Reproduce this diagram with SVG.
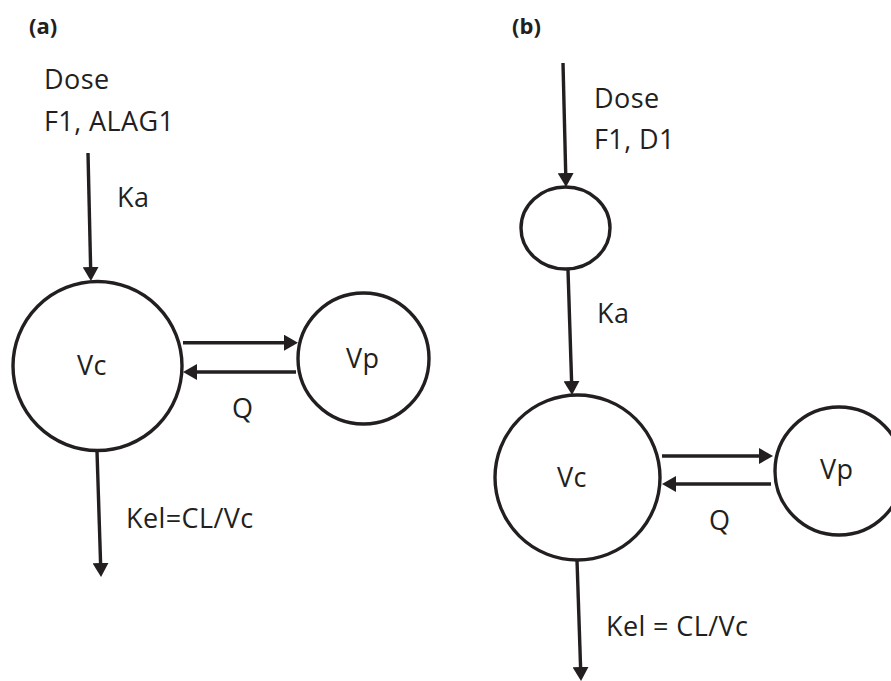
<svg xmlns="http://www.w3.org/2000/svg" width="891" height="681" viewBox="0 0 891 681">
<style>
  .node { fill: none; stroke: #231f20; stroke-width: 3.4; }
  .edge { fill: none; stroke: #231f20; stroke-width: 3.4; marker-end: url(#arrow); }
  .lbl { font-family: "Open Sans", "Noto Sans", sans-serif; font-size: 27px; letter-spacing: 0.4px; fill: #231f20; }
  .panel { font-family: "Open Sans", "Liberation Sans", sans-serif; font-size: 22px; font-weight: bold; fill: #231f20; }
</style>
<defs>
  <marker id="arrow" viewBox="0 0 14 16" refX="4" refY="8" markerWidth="14" markerHeight="16" markerUnits="userSpaceOnUse" orient="auto">
    <path d="M0,0 L14,8 L0,16 z" fill="#231f20"/>
  </marker>
</defs>
<rect width="891" height="681" fill="#ffffff"/>

<text class="panel" x="29" y="34">(a)</text>
<text class="panel" x="512" y="34">(b)</text>

<g id="a-dose">
  <text class="lbl" x="44" y="89">Dose</text>
  <text class="lbl" x="44" y="131">F1, ALAG1</text>
</g>
<g id="a-vc">
  <circle class="node" cx="97.5" cy="366" r="84.5"/>
  <text class="lbl" x="77" y="375">Vc</text>
</g>
<g id="a-vp">
  <circle class="node" cx="363.5" cy="358.5" r="65.5"/>
  <text class="lbl" x="346" y="368">Vp</text>
</g>

<g id="b-dose">
  <text class="lbl" x="594" y="108">Dose</text>
  <text class="lbl" x="594" y="149">F1, D1</text>
</g>
<g id="b-depot">
  <ellipse class="node" cx="565.5" cy="228" rx="44.5" ry="41"/>
</g>
<g id="b-vc">
  <circle class="node" cx="577.5" cy="477.5" r="82.5"/>
  <text class="lbl" x="557" y="487">Vc</text>
</g>
<g id="b-vp">
  <circle class="node" cx="839" cy="471" r="64"/>
  <text class="lbl" x="820" y="479">Vp</text>
</g>

<g id="connectors">
  <line class="edge" x1="88" y1="153" x2="90.7" y2="271"/>
  <line class="edge" x1="183" y1="342.7" x2="288" y2="342.7"/>
  <line class="edge" x1="296" y1="372" x2="193" y2="372"/>
  <line class="edge" x1="97" y1="451" x2="100.7" y2="567"/>

  <line class="edge" x1="563" y1="63" x2="565.8" y2="177"/>
  <line class="edge" x1="568" y1="270" x2="571.7" y2="385"/>
  <line class="edge" x1="662" y1="456" x2="763" y2="456"/>
  <line class="edge" x1="771" y1="484" x2="672" y2="484"/>
  <line class="edge" x1="577" y1="560" x2="580.7" y2="671"/>
</g>

<g id="edge-labels">
  <text class="lbl" x="117" y="207">Ka</text>
  <text class="lbl" x="232" y="418">Q</text>
  <text class="lbl" x="126" y="528">Kel=CL/Vc</text>
  <text class="lbl" x="597" y="323">Ka</text>
  <text class="lbl" x="709" y="530">Q</text>
  <text class="lbl" x="606" y="636">Kel = CL/Vc</text>
</g>
</svg>
